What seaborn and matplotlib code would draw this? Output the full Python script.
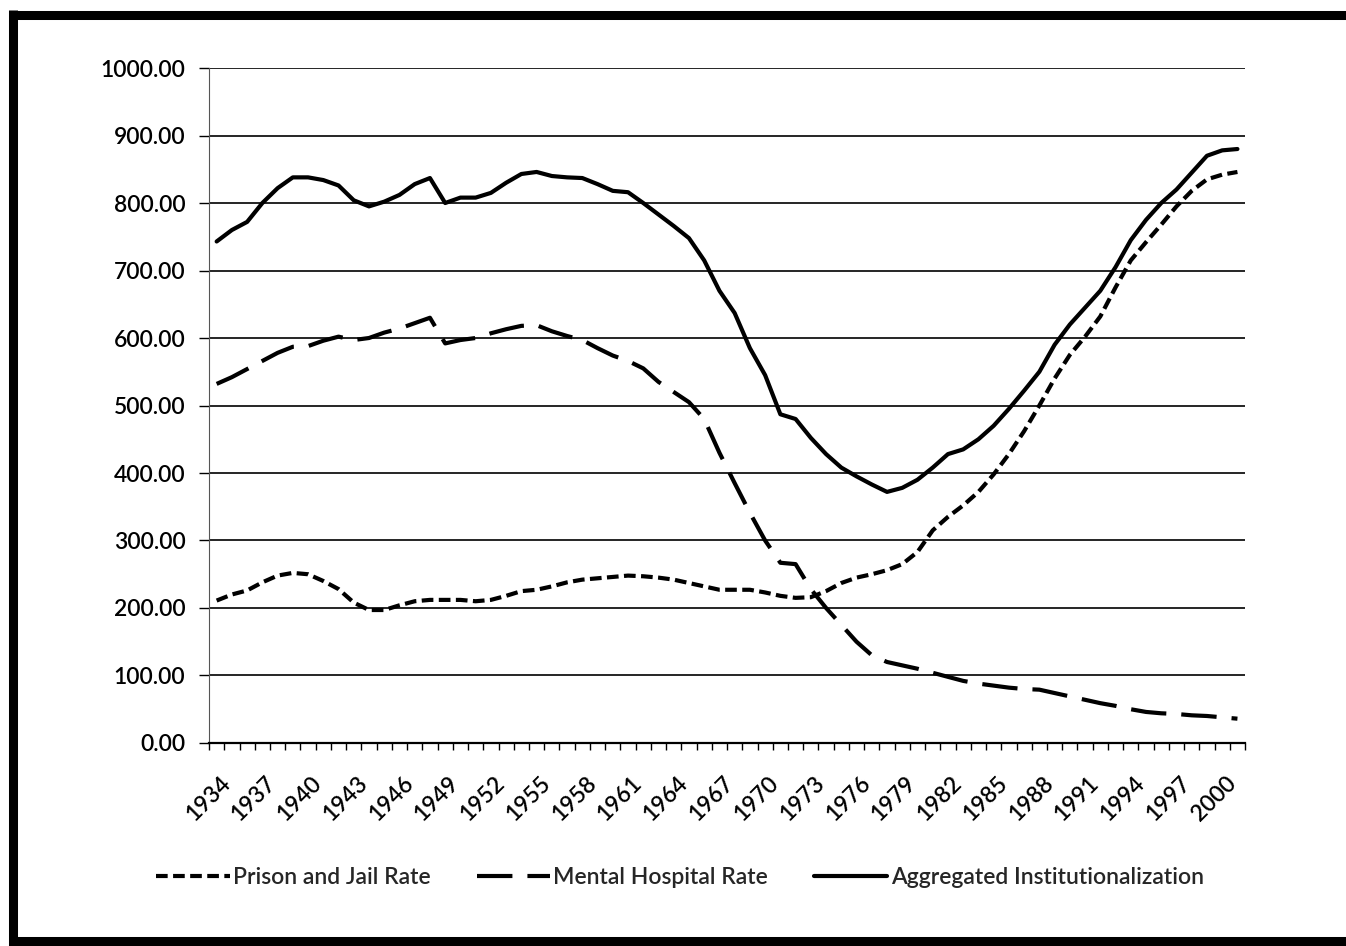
import numpy as np
import pandas as pd
import matplotlib
matplotlib.use("Agg")
import matplotlib.pyplot as plt
from matplotlib.lines import Line2D
from matplotlib.ticker import FormatStrFormatter, FixedLocator
import matplotlib.transforms as mtransforms
import seaborn as sns

years = list(range(1934, 2002))

prison = [211, 220, 226, 238, 248, 252, 250, 240, 228, 208,
          197, 197, 204, 210, 212, 212, 212, 210, 212, 218,
          225, 227, 232, 238, 242, 244, 246, 248, 247, 245,
          242, 237, 232, 227, 227, 227, 223, 218, 215, 216,
          225, 237, 245, 250, 256, 265, 283, 315, 335, 352,
          372, 398, 428, 462, 500, 540, 575, 602, 632, 675,
          715, 742, 768, 795, 818, 835, 842, 846]

mental = [532, 542, 554, 566, 578, 587, 588, 596, 602, 597,
          600, 608, 614, 622, 630, 592, 597, 600, 607, 613,
          618, 619, 610, 603, 597, 585, 574, 566, 555, 535,
          520, 505, 480, 430, 385, 341, 300, 267, 265, 228,
          200, 175, 150, 130, 120, 115, 110, 104, 98, 92,
          88, 85, 82, 80, 79, 74, 69, 64, 59, 55,
          50, 46, 44, 43, 41, 40, 38, 36]

aggregated = [743, 760, 772, 800, 822, 838, 838, 834, 826, 804,
              795, 802, 812, 828, 837, 800, 808, 808, 815, 830,
              843, 846, 840, 838, 837, 828, 818, 816, 800, 783,
              766, 748, 715, 670, 637, 585, 545, 487, 480, 452,
              428, 408, 395, 383, 372, 378, 390, 408, 428, 435,
              450, 470, 495, 522, 550, 590, 620, 645, 670, 705,
              745, 775, 800, 820, 845, 870, 878, 880]

series_names = ["Prison and Jail Rate", "Mental Hospital Rate",
                "Aggregated Institutionalization"]
tick_years = list(range(1934, 2001, 3))

df = pd.DataFrame({
    "Year": years * 3,
    "Rate": prison + mental + aggregated,
    "Series": [series_names[0]] * len(years) + [series_names[1]] * len(years)
              + [series_names[2]] * len(years),
})

sns.set_theme(style="white")
plt.rcParams["font.family"] = ["Lato", "DejaVu Sans"]
plt.rcParams["font.weight"] = "semibold"

fig = plt.figure(figsize=(13.46, 9.46), dpi=100, linewidth=0, edgecolor="white")
ax = fig.add_axes([0.1553, 0.2146, 0.7697, 0.7135])

LW = 3.0
dashes = {series_names[0]: (2.8, 1.3),
          series_names[1]: (8.5, 3.6),
          series_names[2]: ""}
palette = {n: "black" for n in series_names}

sns.lineplot(data=df, x="Year", y="Rate", hue="Series", style="Series",
             hue_order=series_names, style_order=series_names,
             palette=palette, dashes=dashes, linewidth=LW, ax=ax,
             legend=True)

ax.set_xlim(1933.5, 2001.5)
ax.set_ylim(0, 1000)
ax.set_yticks(np.arange(0, 1001, 100))
ax.yaxis.set_major_formatter(FormatStrFormatter("%.2f"))
ax.set_xticks(tick_years)
ax.set_xticklabels([str(y) for y in tick_years], rotation=45, ha="right",
                   rotation_mode="anchor")
ax.xaxis.set_minor_locator(FixedLocator(np.arange(1933.5, 2002, 1.0)))
ax.tick_params(axis="x", which="major", length=0, pad=21, labelsize=16.5,
               colors="black")
ax.tick_params(axis="x", which="minor", length=5, width=1, color="black",
               direction="out", bottom=True)
ax.tick_params(axis="y", which="major", length=7, width=1, color="black",
               direction="out", left=True, labelsize=16.5, labelcolor="black",
               pad=10)
offset = mtransforms.ScaledTranslation(3 / 100, 0, fig.dpi_scale_trans)
for lbl in ax.get_xticklabels():
    lbl.set_transform(lbl.get_transform() + offset)

ax.grid(axis="y", color="black", linewidth=1.2)
ax.grid(axis="x", visible=False)
ax.set_axisbelow(True)
ax.set_xlabel("")
ax.set_ylabel("")

for s in ["top", "right"]:
    ax.spines[s].set_visible(False)
ax.spines["bottom"].set_color("black")
ax.spines["bottom"].set_linewidth(1.6)
ax.spines["left"].set_color("#555555")
ax.spines["left"].set_linewidth(0.8)
ax.spines["left"].set_linestyle((0, (2, 1)))

sns.move_legend(ax, "center", bbox_to_anchor=(0.4546, -0.2), bbox_transform=ax.transAxes,
                ncol=3, frameon=False, title=None, fontsize=16.5,
                handlelength=3.2, columnspacing=2.0, handletextpad=0.15)

W, H = 1346, 946
border_kw = dict(color="black", transform=fig.transFigure, solid_capstyle="butt")
fig.add_artist(Line2D([13 / W, 13 / W], [1 - 10 / H, 1 - 946 / H], linewidth=6.5, **border_kw))
fig.add_artist(Line2D([9 / W, 1.0], [1 - 15 / H, 1 - 15 / H], linewidth=6.5, **border_kw))
fig.add_artist(Line2D([9 / W, 1.0], [1 - 941 / H, 1 - 941 / H], linewidth=6.5, **border_kw))

fig.savefig("out.png", dpi=100, facecolor="white", edgecolor="white")
